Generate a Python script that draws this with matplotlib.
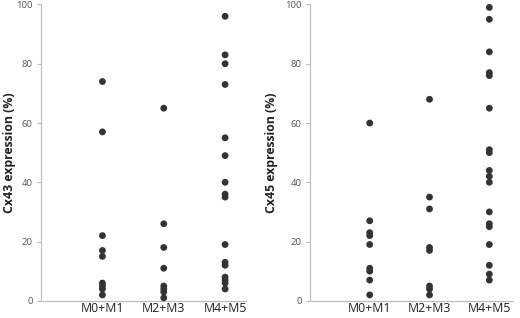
import matplotlib
matplotlib.use("Agg")
import matplotlib.pyplot as plt

groups = ["M0+M1", "M2+M3", "M4+M5"]

cx43_m01 = [74, 57, 22, 17, 15, 6, 5, 4, 2]
cx43_m23 = [65, 26, 18, 11, 5, 4, 3, 1]
cx43_m45 = [96, 83, 80, 73, 55, 49, 40, 36, 35, 19, 13, 12, 8, 7, 6, 4]

cx45_m01 = [60, 27, 23, 22, 19, 11, 10, 7, 2]
cx45_m23 = [68, 35, 31, 18, 17, 5, 4, 2]
cx45_m45 = [99, 95, 84, 77, 76, 65, 51, 50, 44, 42, 40, 30, 26, 25, 19, 12, 9, 7]

yticks = [0, 20, 40, 60, 80, 100]

plt.rcParams['font.family'] = ['Open Sans', 'DejaVu Sans']


def draw_panel(ax, series, ylabel, xmax, label_x):
    """One dot plot panel, Excel style."""
    for i, vals in enumerate(series):
        ax.scatter([i + 1] * len(vals), vals, s=24, color='#333333',
                   edgecolors='none', zorder=3, clip_on=False)
    ax.set_xlim(0, xmax)
    ax.set_ylim(0, 100)
    ax.set_xticks([1, 2, 3])
    ax.set_xticklabels(groups, fontsize=8.8, color='#222222')
    ax.set_yticks(yticks)
    ax.set_yticklabels([str(t) for t in yticks], fontsize=6.8, color='#555555')
    ax.tick_params(axis='x', length=0, pad=1)
    ax.tick_params(axis='y', length=3, width=0.8, color='#bbbbbb', pad=3)
    for side in ['top', 'right']:
        ax.spines[side].set_visible(False)
    for side in ['left', 'bottom']:
        ax.spines[side].set_color('#bbbbbb')
        ax.spines[side].set_linewidth(0.8)
    ax.set_ylabel(ylabel, fontsize=8.8, fontweight='bold', color='#222222')
    ax.yaxis.set_label_coords(label_x, 0.5)


fig = plt.figure(figsize=(5.2, 3.18), dpi=100)
ax1 = fig.add_axes([0.079, 0.054, 0.394, 0.932])
ax2 = fig.add_axes([0.596, 0.054, 0.391, 0.932])

draw_panel(ax1, [cx43_m01, cx43_m23, cx43_m45], "Cx43 expression (%)", 3.34, -0.12)
draw_panel(ax2, [cx45_m01, cx45_m23, cx45_m45], "Cx45 expression (%)", 3.40, -0.155)

fig.savefig("out.png", dpi=100)
